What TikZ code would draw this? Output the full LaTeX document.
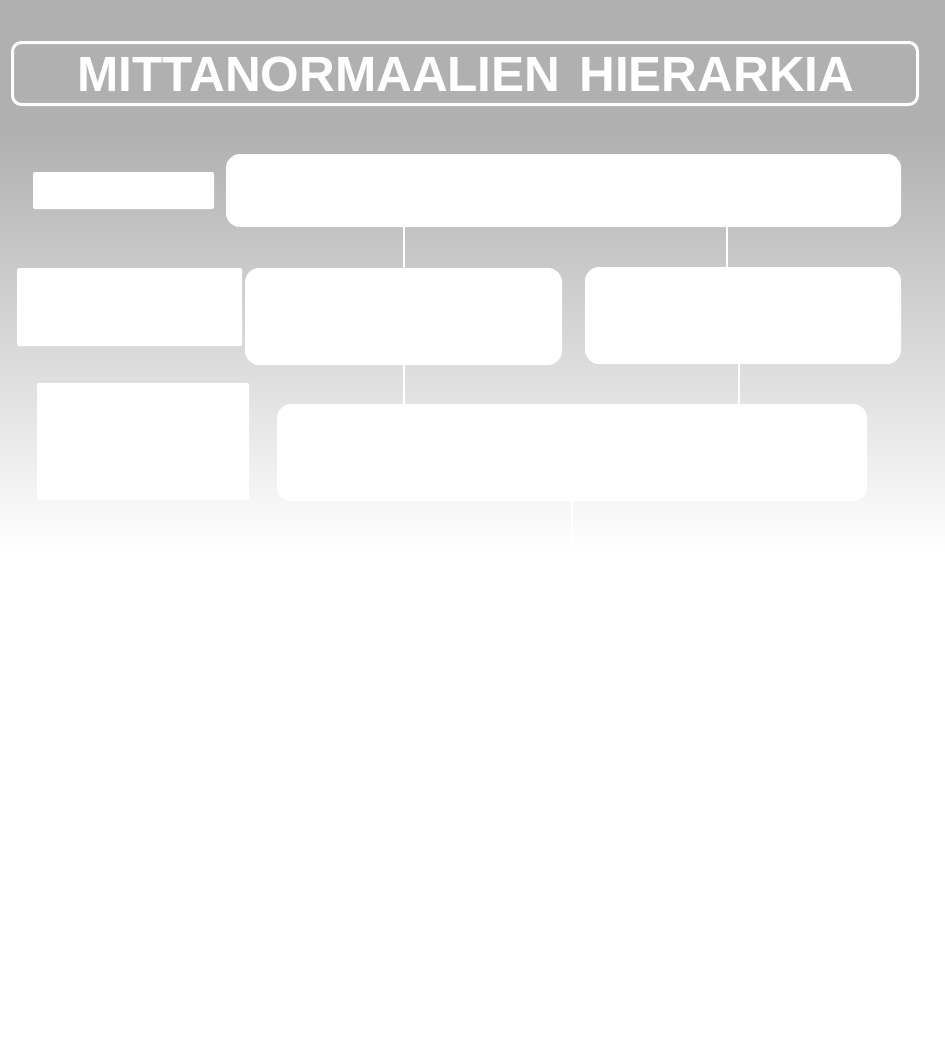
\documentclass[tikz,border=0pt]{standalone}
\usepackage{fontspec}
\setmainfont{Liberation Sans}
\begin{document}
\begin{tikzpicture}[x=1pt,y=-1pt,
  rbox/.style={fill=white, draw=none, rounded corners=14pt, inner sep=0pt},
  sbox/.style={fill=white, draw=none, rounded corners=2pt, inner sep=0pt},
  link/.style={draw=white, line width=2pt},
  titlebox/.style={draw=white, line width=3pt, rounded corners=9pt, inner sep=0pt}]
\useasboundingbox (0,0) rectangle (945,1045);
\fill[white] (0,0) rectangle (945,1045);
\fill[black!31] (0,0) rectangle (945,131);
\shade[top color=black!31, bottom color=white] (0,130) rectangle (945,550);
% title
\node[titlebox, minimum width=905pt, minimum height=62pt] (title) at (465,73.5) {};
\node[text=white, font=\bfseries\fontsize{49.5}{50}\selectfont, inner sep=0pt] (ttext) at (466,74) {MITTANORMAALIEN\hspace{19pt}HIERARKIA};
% left boxes
\node[sbox, minimum width=181pt, minimum height=37pt] (l1) at (123.5,190.5) {};
\node[sbox, minimum width=225pt, minimum height=78pt] (l2) at (129.5,307) {};
\node[sbox, minimum width=212pt, minimum height=117pt] (l3) at (143,441.5) {};
% right boxes
\node[rbox, minimum width=675pt, minimum height=73pt] (r1) at (563.5,190.5) {};
\node[rbox, minimum width=317pt, minimum height=97pt] (r2a) at (403.5,316.5) {};
\node[rbox, minimum width=316pt, minimum height=97pt] (r2b) at (743,315.5) {};
\node[rbox, minimum width=590pt, minimum height=97pt] (r3) at (572,452.5) {};
\coordinate (r3end) at (572,560);
% connectors
\draw[link] (r2a.north) -- (r2a.north |- r1.south);
\draw[link] ([xshift=-16pt]r2b.north) -- ([xshift=-16pt]r2b.north |- r1.south);
\draw[link] (r2a.south) -- (r2a.south |- r3.north);
\draw[link] ([xshift=-4pt]r2b.south) -- ([xshift=-4pt]r2b.south |- r3.north);
\draw[link] (r3.south) -- (r3end);
\end{tikzpicture}
\end{document}
